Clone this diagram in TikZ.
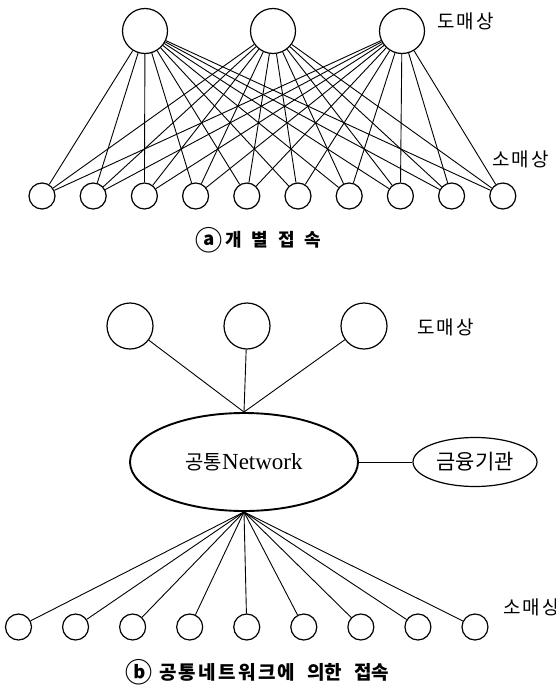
\documentclass[tikz,border=0pt]{standalone}
\usepackage{fontspec}
\setmainfont{Liberation Serif}
\newfontfamily\kr{Noto Sans CJK KR}
\newfontfamily\krsp[LetterSpace=12]{Noto Sans CJK KR}
\usetikzlibrary{shapes.geometric}
\tikzset{
  bigc/.style={circle, draw, line width=1.2pt, minimum size=45pt, inner sep=0pt},
  smallc/.style={circle, draw, line width=1.2pt, minimum size=26pt, inner sep=0pt},
  midc/.style={circle, draw, line width=1.2pt, minimum size=46pt, inner sep=0pt},
  link/.style={line width=0.9pt},
  lbl/.style={font=\krsp\fontsize{19}{19}\selectfont, inner sep=0pt},
  captxt/.style={font=\kr\bfseries\fontsize{18}{18}\selectfont, inner sep=0pt},
  circch/.style={font=\kr\bfseries\fontsize{27}{27}\selectfont, inner sep=0pt},
}
\begin{document}
\begin{tikzpicture}[x=1pt,y=-1pt]
\useasboundingbox (0,0) rectangle (555,691);
\clip (0,0) rectangle (555,691);
% ---- part a ----
\foreach \x [count=\i] in {145,273,402} \node[bigc] (T\i) at (\x,31) {};
\foreach \j in {0,...,9} \node[smallc] (B\j) at ({42+51.2*\j},196) {};
\foreach \i in {1,2,3} \foreach \j in {0,...,9} \draw[link] (T\i) -- (B\j);
\node[lbl, anchor=west] (wa) at (437,21) {도매상};
\node[lbl, anchor=west] (ra) at (492,159) {소매상};
\node[circch] (ca) at (209,240) {ⓐ};
\node[captxt, anchor=west] (capa) at (225,240) {\spaceskip=10pt 개 별 접 속};
% ---- part b ----
\node[ellipse, draw, line width=1.9pt, minimum width=228pt, minimum height=98pt, inner sep=0pt] (N) at (244,462)
  {\kr\fontsize{20}{20}\selectfont 공통\fontsize{23}{23}\selectfont\rmfamily Network};
\node[ellipse, draw, line width=1.2pt, minimum width=124pt, minimum height=49pt, inner sep=0pt] (F) at (475,462)
  {\kr\fontsize{21}{21}\selectfont 금융기관};
\draw[link] (N.east) -- (F.west);
\foreach \x [count=\i] in {130,247,364} {
  \node[midc] (U\i) at (\x,326) {};
  \draw[link] (U\i) -- (N.north);
}
\foreach \j in {0,...,8} {
  \node[smallc] (D\j) at ({18.5+57.06*\j},627) {};
  \draw[link] (N.south) -- (D\j);
}
\node[lbl, anchor=west] (wb) at (417,327) {도매상};
\node[lbl, anchor=west] (rb) at (503,607) {소매상};
\node[circch] (cb) at (139,672) {ⓑ};
\node[font=\kr\bfseries\fontsize{19}{19}\selectfont, inner sep=0pt, anchor=west] (capb) at (159,672)
  {\spaceskip=12pt {\krsp\bfseries 공통네트워크에} 의한 접속};
\end{tikzpicture}
\end{document}
